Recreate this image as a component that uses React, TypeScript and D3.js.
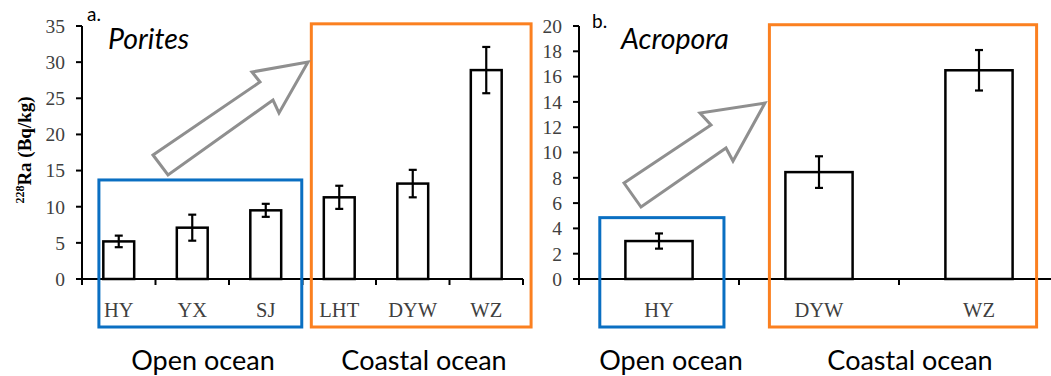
import React from "react";
import * as d3 from "d3";

// Panel a: Porites
const catsA = ["HY", "YX", "SJ", "LHT", "DYW", "WZ"];
const valsA = [5.2, 7.1, 9.5, 11.3, 13.2, 28.9];
const errA = [0.8, 1.8, 0.9, 1.6, 1.9, 3.2];
const ticksA = [0, 5, 10, 15, 20, 25, 30, 35];

// Panel b: Acropora
const catsB = ["HY", "DYW", "WZ"];
const valsB = [3.0, 8.45, 16.5];
const errB = [0.6, 1.25, 1.6];
const ticksB = [0, 2, 4, 6, 8, 10, 12, 14, 16, 18, 20];

const W = 1051;
const H = 376;
const BLUE = "#0a6fc2";
const ORANGE = "#fb8020";
const ARROW = "#8f8f8f";
const TICK_COL = "#404040";

const serif = "'Liberation Serif', 'DejaVu Serif', serif";
const sans = "Lato, 'Open Sans', sans-serif";

type PanelProps = {
  cats: string[];
  vals: number[];
  errs: number[];
  ticks: number[];
  yMax: number;
  x0: number;
  x1: number;
  letter: string;
  letterX: number;
  letterY: number;
  genus: string;
  genusX: number;
  blueBox: [number, number, number]; // left/right in steps, top in data units
  orangeBox: [number, number, number];
  arrow: [number, number][];
  groupX: [number, number];
};

const Panel = (p: PanelProps) => {
  const yTop = 26;
  const yBase = 279;
  const x = d3
    .scaleBand<string>()
    .domain(p.cats)
    .range([p.x0, p.x1])
    .paddingInner(0.58)
    .paddingOuter(0.29);
  const y = d3.scaleLinear().domain([0, p.yMax]).range([yBase, yTop]);
  const step = x.step();
  const bw = x.bandwidth();
  const boundaries = d3.range(p.cats.length + 1).map((i) => p.x0 + i * step);
  const boxBottom = 327;

  const box = (b: [number, number, number], color: string) => (
    <rect
      x={p.x0 + b[0] * step}
      y={y(b[2])}
      width={(b[1] - b[0]) * step}
      height={boxBottom - y(b[2])}
      fill="none"
      stroke={color}
      strokeWidth={3}
    />
  );

  return (
    <g>
      {/* bars */}
      {p.cats.map((c, i) => (
        <rect
          key={c}
          x={x(c)!}
          y={y(p.vals[i])}
          width={bw}
          height={yBase - y(p.vals[i])}
          fill="#fff"
          stroke="#000"
          strokeWidth={2.5}
        />
      ))}
      {/* error bars */}
      {p.cats.map((c, i) => {
        const cx = x(c)! + bw / 2;
        const hi = y(p.vals[i] + p.errs[i]);
        const lo = y(p.vals[i] - p.errs[i]);
        return (
          <g key={"e" + c} stroke="#000" strokeWidth={2.2}>
            <line x1={cx} x2={cx} y1={hi} y2={lo} />
            <line x1={cx - 4} x2={cx + 4} y1={hi} y2={hi} />
            <line x1={cx - 4} x2={cx + 4} y1={lo} y2={lo} />
          </g>
        );
      })}
      {/* y axis */}
      <line x1={p.x0} x2={p.x0} y1={yTop} y2={yBase + 6} stroke="#000" strokeWidth={2} />
      {p.ticks.map((t) => (
        <g key={"t" + t}>
          <line x1={p.x0 - 6} x2={p.x0} y1={y(t)} y2={y(t)} stroke="#000" strokeWidth={2} />
          <text
            x={p.x0 - 17}
            y={y(t)}
            dy="0.35em"
            textAnchor="end"
            fontFamily={serif}
            fontSize={19.5}
            fill={TICK_COL}
          >
            {t}
          </text>
        </g>
      ))}
      {/* x axis */}
      <line x1={p.x0 - 6} x2={p.x1} y1={yBase} y2={yBase} stroke="#000" strokeWidth={2} />
      {boundaries.map((bx, i) => (
        <line key={"b" + i} x1={bx} x2={bx} y1={yBase} y2={yBase + 6} stroke="#000" strokeWidth={2} />
      ))}
      {p.cats.map((c) => (
        <text
          key={"l" + c}
          x={x(c)! + bw / 2}
          y={317}
          textAnchor="middle"
          fontFamily={serif}
          fontSize={20.5}
          fill={TICK_COL}
        >
          {c}
        </text>
      ))}
      {/* boxes */}
      {box(p.blueBox, BLUE)}
      {box(p.orangeBox, ORANGE)}
      {/* arrow */}
      <polygon
        points={p.arrow.map((d) => d.join(",")).join(" ")}
        fill="#fff"
        stroke={ARROW}
        strokeWidth={3}
        strokeLinejoin="miter"
      />
      {/* titles */}
      <text x={p.letterX} y={p.letterY} fontFamily={sans} fontSize={19} fill="#000">
        {p.letter}
      </text>
      <text x={p.genusX} y={49} fontFamily={sans} fontStyle="italic" fontSize={28.5} fill="#000">
        {p.genus}
      </text>
      {/* group labels */}
      <text x={p.groupX[0]} y={370} textAnchor="middle" fontFamily={sans} fontSize={27} fill="#000">
        Open ocean
      </text>
      <text x={p.groupX[1]} y={370} textAnchor="middle" fontFamily={sans} fontSize={27} fill="#000">
        Coastal ocean
      </text>
    </g>
  );
};

const App = () => {
  return (
    <svg
      width={W}
      height={H}
      viewBox={`0 0 ${W} ${H}`}
      style={{ position: "absolute", left: 0, top: 0, background: "#fff" }}
    >
      <Panel
        cats={catsA}
        vals={valsA}
        errs={errA}
        ticks={ticksA}
        yMax={35}
        x0={82}
        x1={523}
        letter="a."
        letterX={87}
        letterY={21}
        genus="Porites"
        genusX={108}
        blueBox={[0.23, 2.99, 13.7]}
        orangeBox={[3.12, 6.11, 35.3]}
        arrow={[
          [153, 155],
          [260, 82],
          [252, 72],
          [308, 62],
          [279, 113],
          [273, 100],
          [168, 175],
        ]}
        groupX={[203, 424]}
      />
      <Panel
        cats={catsB}
        vals={valsB}
        errs={errB}
        ticks={ticksB}
        yMax={20}
        x0={579}
        x1={1059}
        letter="b."
        letterX={592}
        letterY={28}
        genus="Acropora"
        genusX={621}
        blueBox={[0.13, 0.906, 4.85]}
        orangeBox={[1.19, 2.86, 20.1]}
        arrow={[
          [624, 183],
          [711, 125],
          [700, 113],
          [765, 103],
          [733, 161],
          [726, 148],
          [641, 207],
        ]}
        groupX={[671, 910]}
      />
      {/* y axis title */}
      <text
        transform="translate(31,150) rotate(-90)"
        textAnchor="middle"
        fontFamily={serif}
        fontWeight="bold"
        fontSize={19}
        fill="#000"
      >
        <tspan fontSize={12} dy={-7}>228</tspan>
        <tspan dy={7}>Ra (Bq/kg)</tspan>
      </text>
    </svg>
  );
};

export default App;
